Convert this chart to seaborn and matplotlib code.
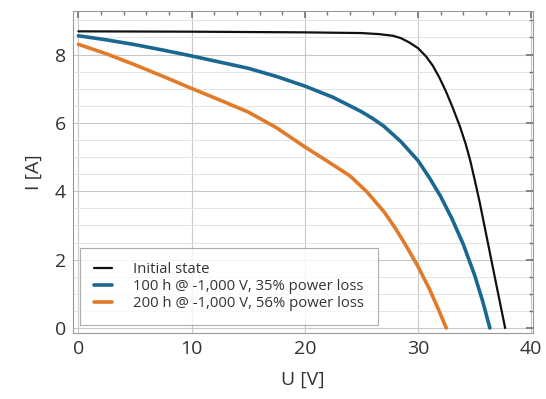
import pandas as pd
import matplotlib.pyplot as plt
from matplotlib.ticker import MultipleLocator
import seaborn as sns

# I-V curves
u_initial = [0, 10, 20, 25, 26.5, 27.8, 28.5, 29.2, 30, 30.7, 31.3, 31.9, 32.5, 33.1, 33.7, 34.2,
             34.6, 35.0, 35.45, 36.2, 36.9, 37.7]
i_initial = [8.68, 8.67, 8.65, 8.63, 8.6, 8.55, 8.48, 8.36, 8.19, 7.95, 7.68, 7.32, 6.9, 6.42, 5.9, 5.4,
             4.92, 4.35, 3.68, 2.45, 1.3, 0.0]

u_100h = [0, 2.5, 5, 7.5, 10, 12.5, 15, 17.5, 20, 22.5, 25, 26, 27, 28.5, 30, 31, 32, 33, 34, 35, 35.7, 36.35]
i_100h = [8.55, 8.43, 8.29, 8.13, 7.96, 7.78, 7.6, 7.36, 7.08, 6.75, 6.33, 6.13, 5.9, 5.45, 4.9, 4.4, 3.85,
          3.2, 2.45, 1.55, 0.8, 0.0]

u_200h = [0, 2.5, 5, 7.5, 10, 12.5, 15, 17.5, 20, 22, 24, 25.5, 27, 28, 29, 30, 31, 31.8, 32.5]
i_200h = [8.3, 8.02, 7.7, 7.36, 7.01, 6.67, 6.32, 5.86, 5.3, 4.88, 4.45, 3.98, 3.4, 2.92, 2.38, 1.8, 1.15,
          0.55, 0.0]

labels = ["Initial state", "100 h @ -1,000 V, 35% power loss", "200 h @ -1,000 V, 56% power loss"]
colors = ["#111111", "#1a6792", "#e27b29"]
widths = [1.6, 2.6, 2.6]

sns.set_theme(style="white")
plt.rcParams["font.family"] = ["Open Sans", "DejaVu Sans"]

fig, ax = plt.subplots(figsize=(5.46, 3.99), dpi=100)
fig.subplots_adjust(left=0.134, right=0.976, top=0.972, bottom=0.165)

series = [(u_initial, i_initial), (u_100h, i_100h), (u_200h, i_200h)]
for (u, i), lab, col, lw in zip(series, labels, colors, widths):
    df = pd.DataFrame({"U": u, "I": i})
    sns.lineplot(data=df, x="U", y="I", ax=ax, color=col, linewidth=lw, label=lab)

ax.set_xlim(-0.46, 40.15)
ax.set_ylim(-0.15, 9.27)
ax.xaxis.set_major_locator(MultipleLocator(10))
ax.xaxis.set_minor_locator(MultipleLocator(2))
ax.yaxis.set_major_locator(MultipleLocator(2))
ax.yaxis.set_minor_locator(MultipleLocator(0.5))

ax.grid(which="major", color="#c8c8c8", linewidth=0.8)
ax.grid(which="minor", axis="y", color="#e4e4e4", linewidth=0.7)
ax.tick_params(which="both", direction="in", top=True, right=True, color="#777777")
ax.tick_params(which="major", length=5, labelsize=14, labelcolor="#333333", pad=5)
ax.tick_params(which="minor", length=3)
for s in ax.spines.values():
    s.set_color("#999999")
    s.set_linewidth(0.8)

ax.set_xlabel("U [V]", fontsize=14, color="#333333", labelpad=9)
ax.set_ylabel("I [A]", fontsize=14, color="#333333", labelpad=9)

leg = ax.legend(loc="lower left", bbox_to_anchor=(0.015, 0.025), borderaxespad=0, fontsize=10.7,
                frameon=True, fancybox=False, edgecolor="#999999", handlelength=1.2,
                borderpad=0.95, labelspacing=0.12, handletextpad=1.4)
leg.get_frame().set_linewidth(0.8)
for t in leg.get_texts():
    t.set_color("#333333")

fig.savefig("out.png", dpi=100)
